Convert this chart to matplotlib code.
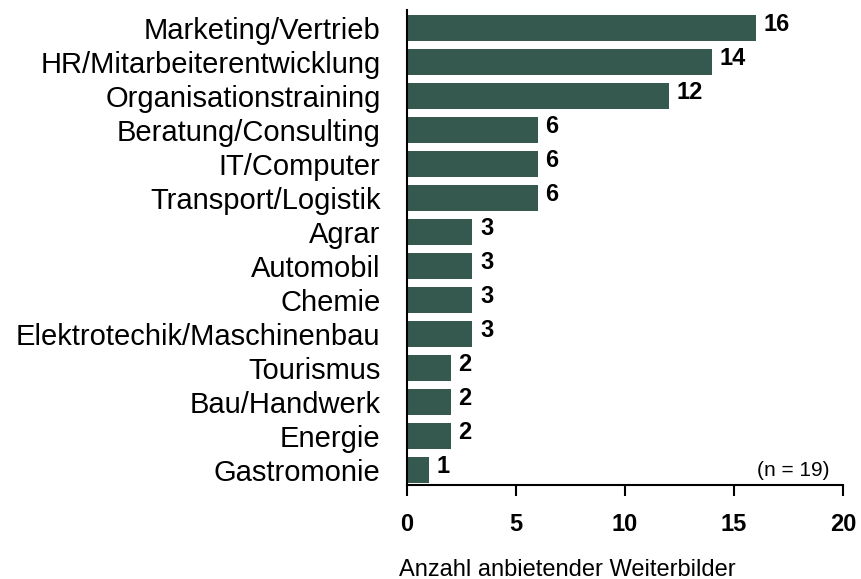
import matplotlib
matplotlib.use("Agg")
import matplotlib.pyplot as plt

categories = ["Marketing/Vertrieb", "HR/Mitarbeiterentwicklung", "Organisationstraining",
              "Beratung/Consulting", "IT/Computer", "Transport/Logistik", "Agrar",
              "Automobil", "Chemie", "Elektrotechik/Maschinenbau", "Tourismus",
              "Bau/Handwerk", "Energie", "Gastromonie"]
values = [16, 14, 12, 6, 6, 6, 3, 3, 3, 3, 2, 2, 2, 1]
xticks = [0, 5, 10, 15, 20]

plt.rcParams['font.family'] = ['Liberation Sans', 'DejaVu Sans']
fig = plt.figure(figsize=(8.61, 5.79), dpi=100)
ax = fig.add_axes([407/861, 1-485/579, 436/861, 475/579])
ypos = list(range(len(categories)))
ax.barh(ypos, values, height=0.77, color="#36594f")
for y, v in zip(ypos, values):
    ax.text(v + 0.35, y - 0.1, str(v), va="center", ha="left", fontsize=17, fontweight="bold")
ax.set_ylim(len(categories) - 1 + 0.44, -0.53)
ax.set_xlim(0, 20)
ax.set_xticks(xticks)
ax.set_xticklabels([str(t) for t in xticks], fontsize=17, fontweight="bold")
ax.set_yticks(ypos)
ax.set_yticklabels(categories, fontsize=21)
ax.tick_params(axis="y", length=0, pad=19)
ax.tick_params(axis="x", direction="out", length=8, width=1.5, pad=12)
for s in ["top", "right"]:
    ax.spines[s].set_visible(False)
ax.spines["left"].set_linewidth(1.5)
ax.spines["bottom"].set_linewidth(1.5)
ax.text(19.4, 13, "(n = 19)", ha="right", va="center", fontsize=15)
ax.set_xlabel("Anzahl anbietender Weiterbilder", fontsize=17, labelpad=20)
ax.xaxis.set_label_coords((567 - 407) / 436, -0.155)
fig.savefig("out.png", dpi=100)
